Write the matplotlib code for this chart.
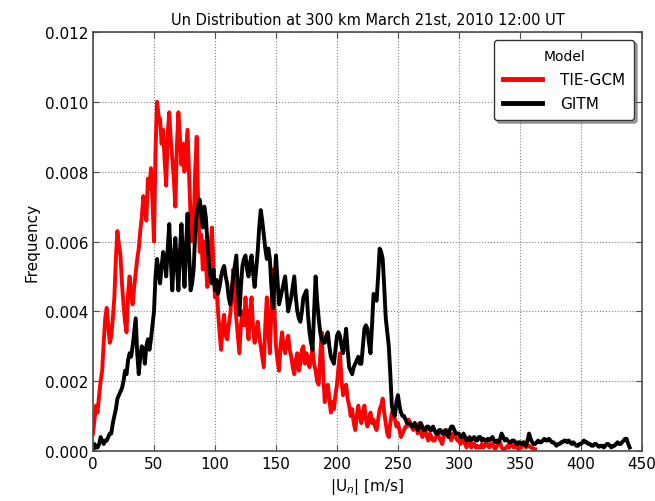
import numpy as np
import matplotlib
matplotlib.use("Agg")
import matplotlib.pyplot as plt

# speed bins [m/s]
step = 1.25

# TIE-GCM frequency (units of 1e-4)
tiegcm = [5, 9, 13, 11, 16, 20, 23, 31, 38, 41, 36, 31, 33, 38, 44, 55, 63, 59, 56, 48,
          42, 37, 34, 45, 50, 45, 42, 47, 51, 55, 58, 63, 67, 73, 70, 66, 78, 75, 81, 72,
          60, 86, 100, 96, 95, 88, 92, 83, 76, 91, 97, 89, 84, 78, 70, 87, 97, 90, 82, 88,
          80, 86, 92, 79, 67, 60, 64, 80, 90, 70, 57, 62, 52, 60, 54, 47, 50, 58, 64, 53,
          44, 48, 40, 34, 29, 36, 39, 33, 32, 36, 39, 45, 52, 44, 38, 33, 28, 36, 40, 36,
          44, 37, 32, 40, 44, 35, 31, 34, 37, 33, 30, 27, 24, 36, 44, 34, 28, 41, 52, 40,
          30, 26, 23, 30, 34, 30, 28, 31, 33, 29, 27, 24, 22, 26, 28, 23, 25, 29, 30, 25,
          28, 26, 24, 27, 29, 25, 23, 20, 19, 27, 34, 22, 14, 17, 19, 15, 11, 14, 12, 16,
          19, 24, 28, 20, 16, 18, 19, 15, 13, 10, 12, 8, 6, 10, 13, 10, 8, 11, 13, 9,
          7, 9, 11, 8, 9, 7, 6, 9, 12, 13, 15, 11, 8, 5, 4, 8, 11, 10, 9, 7,
          8, 6, 4, 5, 6, 7, 7, 9, 8, 7, 6, 8, 7, 5, 8, 6, 4, 5, 6, 4,
          3, 5, 4, 3, 3, 4, 5, 4, 3, 2, 4, 5, 6, 5, 4, 3, 5, 4, 4, 3,
          3, 2, 3, 4, 2, 1, 3, 2, 1, 2, 2, 1, 1.5, 1, 1, 2, 1, 1.5, 2.5, 1.5,
          1, 2, 2, 1, 0.5, 1.5, 2, 2.5, 1, 0.5, 0.5, 1, 1.5, 1, 2, 1.5, 1, 2, 1, 0.5,
          1.5, 1, 2, 2.5, 1, 1.5, 1.5, 1, 1, 0.5, 0.5]

# GITM frequency (units of 1e-4)
gitm = [0, 2, 1, 1, 2, 4, 3, 2, 3, 3, 4, 5, 5, 8, 10, 12, 15, 16, 17, 18,
        20, 23, 22, 26, 28, 27, 30, 34, 38, 28, 22, 27, 30, 29, 25, 30, 32, 29, 32, 36,
        40, 50, 55, 51, 48, 53, 57, 54, 50, 58, 65, 55, 46, 55, 61, 53, 46, 57, 65, 56,
        47, 58, 68, 57, 46, 48, 52, 62, 68, 70, 72, 68, 64, 70, 67, 60, 54, 50, 48, 52,
        46, 49, 45, 47, 50, 52, 53, 50, 48, 44, 42, 46, 50, 53, 56, 47, 39, 47, 53, 55,
        56, 52, 50, 54, 56, 51, 47, 52, 57, 64, 69, 66, 62, 58, 55, 58, 55, 47, 41, 48,
        56, 49, 42, 44, 46, 48, 50, 45, 40, 42, 44, 47, 50, 44, 40, 38, 37, 40, 44, 45,
        46, 39, 34, 31, 29, 40, 50, 43, 38, 34, 32, 31, 31, 33, 34, 30, 27, 26, 25, 29,
        33, 34, 33, 30, 28, 31, 35, 29, 24, 23, 22, 24, 25, 26, 27, 25, 25, 30, 35, 36,
        35, 31, 28, 36, 45, 44, 43, 50, 58, 57, 55, 47, 38, 34, 30, 22, 13, 11, 10, 14,
        16, 13, 11, 10, 10, 9, 8, 8, 8, 7, 7, 8, 7, 6, 7, 8, 7, 6, 6, 7,
        7, 6, 6, 7, 6, 5, 5, 6, 6, 5, 5, 6, 5, 4, 6, 7, 7, 6, 5, 5,
        5, 4, 4, 5, 4, 3, 3.5, 4, 3, 3.5, 4, 3, 3, 4, 4, 3, 3.5, 3, 3, 3.5,
        3, 3.5, 4, 3, 2.5, 3, 2.5, 3.5, 5, 4, 3, 3.5, 3, 2.5, 2.5, 3, 3, 2.5, 2, 2.5,
        2.5, 2, 2.5, 2, 1.5, 3, 5, 3.5, 2.5, 2, 2, 2.5, 3, 2.5, 2.5, 3, 3.5, 3, 3, 3.5,
        3, 2.5, 2.5, 2, 1.5, 2, 2, 2.5, 2.5, 3, 3, 2.5, 3, 2.5, 2, 2.5, 2, 1.5, 1.5, 2,
        2, 2.5, 3, 2.5, 2.5, 2, 2, 1.5, 1.5, 2, 2, 1.5, 1.2, 1.5, 1.5, 1, 1.5, 2, 2, 1.5,
        1, 1.5, 1.5, 2, 2.5, 2, 2, 2.5, 3, 3.5, 3.5, 2, 1]

x_tie = np.arange(len(tiegcm)) * step
x_gitm = np.arange(len(gitm)) * step
y_tie = np.array(tiegcm) * 1e-4
y_gitm = np.array(gitm) * 1e-4

plt.rcParams['font.family'] = ['DejaVu Sans']
plt.rcParams['xtick.direction'] = 'in'
plt.rcParams['ytick.direction'] = 'in'

fig = plt.figure(figsize=(6.55, 5.02), dpi=100)
ax = fig.add_axes([0.142, 0.0996, 0.838, 0.8346])

ax.plot(x_tie, y_tie, color='red', lw=2.8, label='TIE-GCM')
ax.plot(x_gitm, y_gitm, color='black', lw=2.8, label='GITM')

ax.set_xlim(0, 450)
ax.set_ylim(0, 0.012)
ax.set_xticks(np.arange(0, 451, 50))
ax.set_yticks(np.arange(0, 0.0121, 0.002))
ax.yaxis.set_major_formatter(matplotlib.ticker.FormatStrFormatter('%.3f'))
ax.tick_params(labelsize=11, top=True, right=True, length=4, color='0.3')
ax.grid(True, linestyle=':', color='0.5', lw=0.8)
for sp in ax.spines.values():
    sp.set_color('0.3')
    sp.set_linewidth(1.2)

ax.set_title('Un Distribution at 300 km March 21st, 2010 12:00 UT', fontsize=10.5)
ax.set_xlabel(r'|U$_n$| [m/s]', fontsize=11)
ax.set_ylabel('Frequency', fontsize=11)

leg = ax.legend(title='Model', loc='upper right', fontsize=11, fancybox=True,
                shadow=True, handlelength=2.5, borderpad=0.6, labelspacing=0.6,
                handletextpad=1.2)
leg.get_title().set_fontsize(10)
leg.get_frame().set_edgecolor('0.2')
for line in leg.get_lines():
    line.set_linewidth(3.5)

fig.savefig('out.png', dpi=100)
